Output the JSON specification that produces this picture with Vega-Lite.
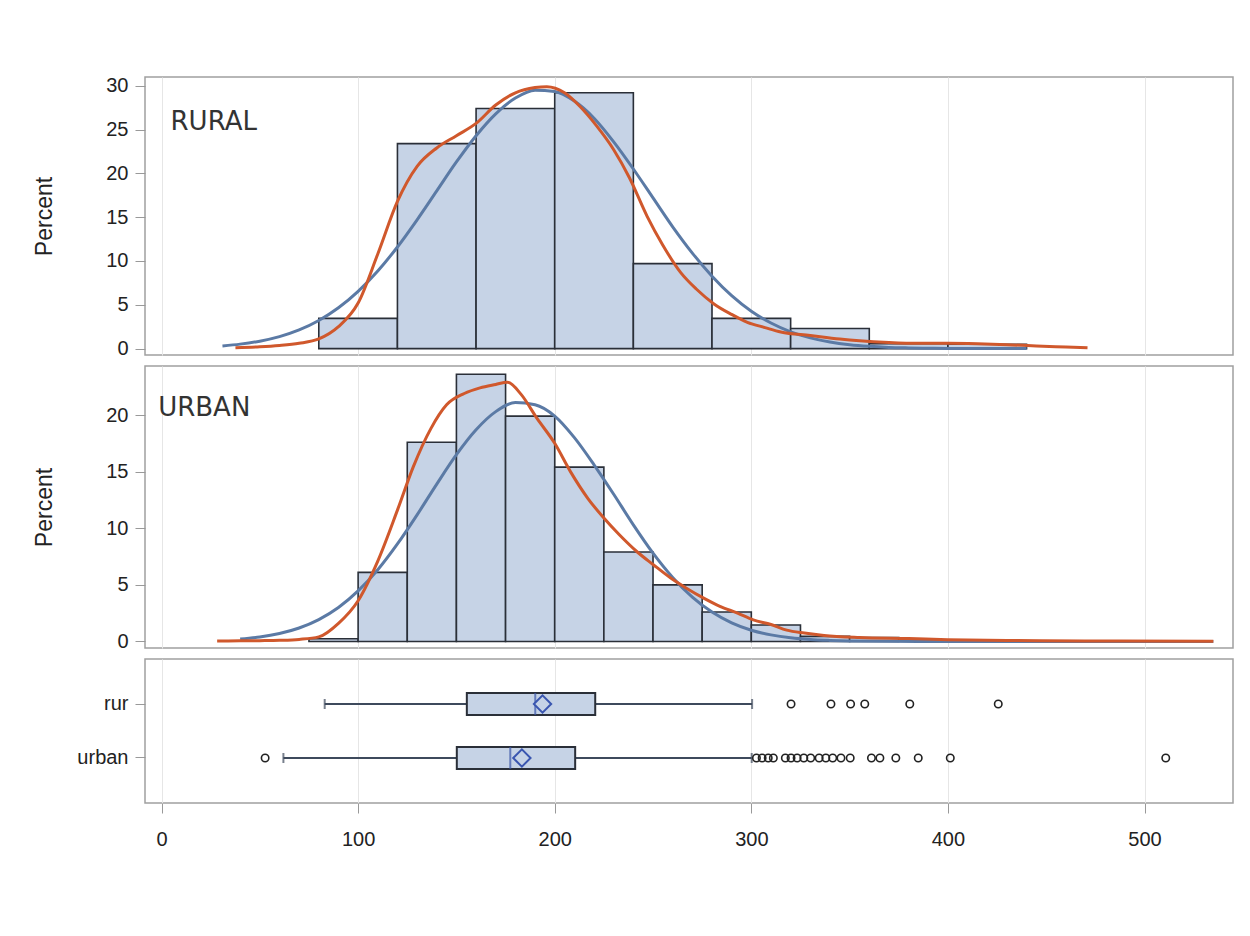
{
  "$schema": "https://vega.github.io/schema/vega-lite/v6.json",
  "background": "white",
  "padding": {"left": 33, "top": 75, "right": 10, "bottom": 10},
  "spacing": 11,
  "bounds": "flush",
  "config": {
    "view": {"stroke": "#a0a0a0", "strokeWidth": 1.5},
    "axis": {"labelFont": "Liberation Sans", "titleFont": "Liberation Sans", "labelColor": "#222", "titleColor": "#222", "tickColor": "#999", "gridColor": "#e6e6e6", "domain": false}
  },
  "datasets": {
    "hist": [
      {"grp": "RURAL", "x0": 80, "x1": 120, "pct": 3.45},
      {"grp": "RURAL", "x0": 120, "x1": 160, "pct": 23.4},
      {"grp": "RURAL", "x0": 160, "x1": 200, "pct": 27.4},
      {"grp": "RURAL", "x0": 200, "x1": 240, "pct": 29.2},
      {"grp": "RURAL", "x0": 240, "x1": 280, "pct": 9.7},
      {"grp": "RURAL", "x0": 280, "x1": 320, "pct": 3.45},
      {"grp": "RURAL", "x0": 320, "x1": 360, "pct": 2.3},
      {"grp": "RURAL", "x0": 360, "x1": 400, "pct": 0.55},
      {"grp": "RURAL", "x0": 400, "x1": 440, "pct": 0.5},
      {"grp": "URBAN", "x0": 75, "x1": 100, "pct": 0.24},
      {"grp": "URBAN", "x0": 100, "x1": 125, "pct": 6.1},
      {"grp": "URBAN", "x0": 125, "x1": 150, "pct": 17.6},
      {"grp": "URBAN", "x0": 150, "x1": 175, "pct": 23.6},
      {"grp": "URBAN", "x0": 175, "x1": 200, "pct": 19.9},
      {"grp": "URBAN", "x0": 200, "x1": 225, "pct": 15.4},
      {"grp": "URBAN", "x0": 225, "x1": 250, "pct": 7.9},
      {"grp": "URBAN", "x0": 250, "x1": 275, "pct": 5.0},
      {"grp": "URBAN", "x0": 275, "x1": 300, "pct": 2.6},
      {"grp": "URBAN", "x0": 300, "x1": 325, "pct": 1.45},
      {"grp": "URBAN", "x0": 325, "x1": 350, "pct": 0.45},
      {"grp": "URBAN", "x0": 350, "x1": 375, "pct": 0.35}
    ],
    "curves": [
      {"grp": "RURAL", "c": "normal", "x": 31, "y": 0.31},
      {"grp": "RURAL", "c": "normal", "x": 40, "y": 0.51},
      {"grp": "RURAL", "c": "normal", "x": 50, "y": 0.85},
      {"grp": "RURAL", "c": "normal", "x": 60, "y": 1.37},
      {"grp": "RURAL", "c": "normal", "x": 70, "y": 2.13},
      {"grp": "RURAL", "c": "normal", "x": 80, "y": 3.21},
      {"grp": "RURAL", "c": "normal", "x": 90, "y": 4.66},
      {"grp": "RURAL", "c": "normal", "x": 100, "y": 6.54},
      {"grp": "RURAL", "c": "normal", "x": 110, "y": 8.86},
      {"grp": "RURAL", "c": "normal", "x": 120, "y": 11.6},
      {"grp": "RURAL", "c": "normal", "x": 130, "y": 14.7},
      {"grp": "RURAL", "c": "normal", "x": 140, "y": 18.0},
      {"grp": "RURAL", "c": "normal", "x": 150, "y": 21.3},
      {"grp": "RURAL", "c": "normal", "x": 160, "y": 24.3},
      {"grp": "RURAL", "c": "normal", "x": 170, "y": 26.8},
      {"grp": "RURAL", "c": "normal", "x": 180, "y": 28.6},
      {"grp": "RURAL", "c": "normal", "x": 190, "y": 29.5},
      {"grp": "RURAL", "c": "normal", "x": 200, "y": 29.35},
      {"grp": "RURAL", "c": "normal", "x": 210, "y": 28.25},
      {"grp": "RURAL", "c": "normal", "x": 220, "y": 26.3},
      {"grp": "RURAL", "c": "normal", "x": 230, "y": 23.6},
      {"grp": "RURAL", "c": "normal", "x": 240, "y": 20.5},
      {"grp": "RURAL", "c": "normal", "x": 250, "y": 17.2},
      {"grp": "RURAL", "c": "normal", "x": 260, "y": 13.9},
      {"grp": "RURAL", "c": "normal", "x": 270, "y": 10.9},
      {"grp": "RURAL", "c": "normal", "x": 280, "y": 8.27},
      {"grp": "RURAL", "c": "normal", "x": 290, "y": 6.05},
      {"grp": "RURAL", "c": "normal", "x": 300, "y": 4.27},
      {"grp": "RURAL", "c": "normal", "x": 310, "y": 2.92},
      {"grp": "RURAL", "c": "normal", "x": 320, "y": 1.92},
      {"grp": "RURAL", "c": "normal", "x": 330, "y": 1.23},
      {"grp": "RURAL", "c": "normal", "x": 340, "y": 0.76},
      {"grp": "RURAL", "c": "normal", "x": 350, "y": 0.45},
      {"grp": "RURAL", "c": "normal", "x": 360, "y": 0.26},
      {"grp": "RURAL", "c": "normal", "x": 370, "y": 0.14},
      {"grp": "RURAL", "c": "normal", "x": 380, "y": 0.08},
      {"grp": "RURAL", "c": "normal", "x": 390, "y": 0.04},
      {"grp": "RURAL", "c": "normal", "x": 400, "y": 0.02},
      {"grp": "RURAL", "c": "normal", "x": 420, "y": 0.005},
      {"grp": "RURAL", "c": "normal", "x": 440, "y": 0.001},
      {"grp": "RURAL", "c": "kernel", "x": 37.6, "y": 0.1},
      {"grp": "RURAL", "c": "kernel", "x": 50, "y": 0.2},
      {"grp": "RURAL", "c": "kernel", "x": 60, "y": 0.35},
      {"grp": "RURAL", "c": "kernel", "x": 70, "y": 0.6},
      {"grp": "RURAL", "c": "kernel", "x": 80, "y": 1.1},
      {"grp": "RURAL", "c": "kernel", "x": 90, "y": 2.5},
      {"grp": "RURAL", "c": "kernel", "x": 100, "y": 5.2},
      {"grp": "RURAL", "c": "kernel", "x": 110, "y": 10.8},
      {"grp": "RURAL", "c": "kernel", "x": 120, "y": 16.8},
      {"grp": "RURAL", "c": "kernel", "x": 130, "y": 20.8},
      {"grp": "RURAL", "c": "kernel", "x": 140, "y": 22.9},
      {"grp": "RURAL", "c": "kernel", "x": 150, "y": 24.3},
      {"grp": "RURAL", "c": "kernel", "x": 160, "y": 25.7},
      {"grp": "RURAL", "c": "kernel", "x": 170, "y": 27.8},
      {"grp": "RURAL", "c": "kernel", "x": 180, "y": 29.2},
      {"grp": "RURAL", "c": "kernel", "x": 190, "y": 29.8},
      {"grp": "RURAL", "c": "kernel", "x": 196, "y": 29.9},
      {"grp": "RURAL", "c": "kernel", "x": 205, "y": 29.2},
      {"grp": "RURAL", "c": "kernel", "x": 213, "y": 27.6},
      {"grp": "RURAL", "c": "kernel", "x": 221, "y": 25.5},
      {"grp": "RURAL", "c": "kernel", "x": 230, "y": 22.7},
      {"grp": "RURAL", "c": "kernel", "x": 238, "y": 19.5},
      {"grp": "RURAL", "c": "kernel", "x": 247, "y": 15.1},
      {"grp": "RURAL", "c": "kernel", "x": 255, "y": 11.8},
      {"grp": "RURAL", "c": "kernel", "x": 264, "y": 8.7},
      {"grp": "RURAL", "c": "kernel", "x": 272, "y": 6.8},
      {"grp": "RURAL", "c": "kernel", "x": 281, "y": 5.1},
      {"grp": "RURAL", "c": "kernel", "x": 290, "y": 3.9},
      {"grp": "RURAL", "c": "kernel", "x": 298, "y": 3.0},
      {"grp": "RURAL", "c": "kernel", "x": 307, "y": 2.4},
      {"grp": "RURAL", "c": "kernel", "x": 315, "y": 1.9},
      {"grp": "RURAL", "c": "kernel", "x": 330, "y": 1.5},
      {"grp": "RURAL", "c": "kernel", "x": 345, "y": 1.1},
      {"grp": "RURAL", "c": "kernel", "x": 355, "y": 0.9},
      {"grp": "RURAL", "c": "kernel", "x": 370, "y": 0.7},
      {"grp": "RURAL", "c": "kernel", "x": 385, "y": 0.6},
      {"grp": "RURAL", "c": "kernel", "x": 400, "y": 0.6},
      {"grp": "RURAL", "c": "kernel", "x": 415, "y": 0.55},
      {"grp": "RURAL", "c": "kernel", "x": 430, "y": 0.45},
      {"grp": "RURAL", "c": "kernel", "x": 445, "y": 0.3},
      {"grp": "RURAL", "c": "kernel", "x": 460, "y": 0.18},
      {"grp": "RURAL", "c": "kernel", "x": 471, "y": 0.1},
      {"grp": "URBAN", "c": "normal", "x": 40, "y": 0.21},
      {"grp": "URBAN", "c": "normal", "x": 50, "y": 0.39},
      {"grp": "URBAN", "c": "normal", "x": 60, "y": 0.7},
      {"grp": "URBAN", "c": "normal", "x": 70, "y": 1.19},
      {"grp": "URBAN", "c": "normal", "x": 80, "y": 1.93},
      {"grp": "URBAN", "c": "normal", "x": 90, "y": 3.0},
      {"grp": "URBAN", "c": "normal", "x": 100, "y": 4.46},
      {"grp": "URBAN", "c": "normal", "x": 110, "y": 6.33},
      {"grp": "URBAN", "c": "normal", "x": 120, "y": 8.61},
      {"grp": "URBAN", "c": "normal", "x": 130, "y": 11.18},
      {"grp": "URBAN", "c": "normal", "x": 140, "y": 13.9},
      {"grp": "URBAN", "c": "normal", "x": 150, "y": 16.5},
      {"grp": "URBAN", "c": "normal", "x": 160, "y": 18.7},
      {"grp": "URBAN", "c": "normal", "x": 170, "y": 20.3},
      {"grp": "URBAN", "c": "normal", "x": 180, "y": 21.1},
      {"grp": "URBAN", "c": "normal", "x": 190, "y": 20.9},
      {"grp": "URBAN", "c": "normal", "x": 200, "y": 19.9},
      {"grp": "URBAN", "c": "normal", "x": 210, "y": 18.0},
      {"grp": "URBAN", "c": "normal", "x": 220, "y": 15.6},
      {"grp": "URBAN", "c": "normal", "x": 230, "y": 13.0},
      {"grp": "URBAN", "c": "normal", "x": 240, "y": 10.3},
      {"grp": "URBAN", "c": "normal", "x": 250, "y": 7.8},
      {"grp": "URBAN", "c": "normal", "x": 260, "y": 5.65},
      {"grp": "URBAN", "c": "normal", "x": 270, "y": 3.91},
      {"grp": "URBAN", "c": "normal", "x": 280, "y": 2.59},
      {"grp": "URBAN", "c": "normal", "x": 290, "y": 1.64},
      {"grp": "URBAN", "c": "normal", "x": 300, "y": 0.99},
      {"grp": "URBAN", "c": "normal", "x": 310, "y": 0.58},
      {"grp": "URBAN", "c": "normal", "x": 320, "y": 0.32},
      {"grp": "URBAN", "c": "normal", "x": 330, "y": 0.17},
      {"grp": "URBAN", "c": "normal", "x": 340, "y": 0.09},
      {"grp": "URBAN", "c": "normal", "x": 350, "y": 0.04},
      {"grp": "URBAN", "c": "normal", "x": 370, "y": 0.01},
      {"grp": "URBAN", "c": "normal", "x": 400, "y": 0.001},
      {"grp": "URBAN", "c": "normal", "x": 535, "y": 0.0},
      {"grp": "URBAN", "c": "kernel", "x": 28.3, "y": 0.03},
      {"grp": "URBAN", "c": "kernel", "x": 40, "y": 0.05},
      {"grp": "URBAN", "c": "kernel", "x": 50, "y": 0.07},
      {"grp": "URBAN", "c": "kernel", "x": 60, "y": 0.1},
      {"grp": "URBAN", "c": "kernel", "x": 70, "y": 0.18},
      {"grp": "URBAN", "c": "kernel", "x": 80, "y": 0.4},
      {"grp": "URBAN", "c": "kernel", "x": 90, "y": 1.6},
      {"grp": "URBAN", "c": "kernel", "x": 100, "y": 3.6},
      {"grp": "URBAN", "c": "kernel", "x": 110, "y": 7.1},
      {"grp": "URBAN", "c": "kernel", "x": 120, "y": 11.6},
      {"grp": "URBAN", "c": "kernel", "x": 128, "y": 15.4},
      {"grp": "URBAN", "c": "kernel", "x": 137, "y": 18.8},
      {"grp": "URBAN", "c": "kernel", "x": 145, "y": 20.9},
      {"grp": "URBAN", "c": "kernel", "x": 154, "y": 21.9},
      {"grp": "URBAN", "c": "kernel", "x": 162, "y": 22.4},
      {"grp": "URBAN", "c": "kernel", "x": 170, "y": 22.7},
      {"grp": "URBAN", "c": "kernel", "x": 176, "y": 22.9},
      {"grp": "URBAN", "c": "kernel", "x": 183, "y": 21.8},
      {"grp": "URBAN", "c": "kernel", "x": 191, "y": 19.7},
      {"grp": "URBAN", "c": "kernel", "x": 200, "y": 17.5},
      {"grp": "URBAN", "c": "kernel", "x": 208, "y": 15.0},
      {"grp": "URBAN", "c": "kernel", "x": 217, "y": 12.6},
      {"grp": "URBAN", "c": "kernel", "x": 225, "y": 10.9},
      {"grp": "URBAN", "c": "kernel", "x": 233, "y": 9.4},
      {"grp": "URBAN", "c": "kernel", "x": 242, "y": 7.9},
      {"grp": "URBAN", "c": "kernel", "x": 250, "y": 6.8},
      {"grp": "URBAN", "c": "kernel", "x": 259, "y": 5.6},
      {"grp": "URBAN", "c": "kernel", "x": 267, "y": 4.7},
      {"grp": "URBAN", "c": "kernel", "x": 276, "y": 3.8},
      {"grp": "URBAN", "c": "kernel", "x": 284, "y": 3.1},
      {"grp": "URBAN", "c": "kernel", "x": 293, "y": 2.5},
      {"grp": "URBAN", "c": "kernel", "x": 301, "y": 1.9},
      {"grp": "URBAN", "c": "kernel", "x": 310, "y": 1.5},
      {"grp": "URBAN", "c": "kernel", "x": 318, "y": 1.0},
      {"grp": "URBAN", "c": "kernel", "x": 327, "y": 0.74},
      {"grp": "URBAN", "c": "kernel", "x": 337, "y": 0.53},
      {"grp": "URBAN", "c": "kernel", "x": 355, "y": 0.35},
      {"grp": "URBAN", "c": "kernel", "x": 380, "y": 0.25},
      {"grp": "URBAN", "c": "kernel", "x": 400, "y": 0.15},
      {"grp": "URBAN", "c": "kernel", "x": 430, "y": 0.08},
      {"grp": "URBAN", "c": "kernel", "x": 470, "y": 0.04},
      {"grp": "URBAN", "c": "kernel", "x": 535, "y": 0.02}
    ],
    "labels": [
      {"grp": "RURAL", "x": 4.6, "y": 24.9, "text": "RURAL"},
      {"grp": "URBAN", "x": -1.7, "y": 19.9, "text": "URBAN"}
    ],
    "box": [
      {"cat": "rur", "lo": 83, "q1": 155.3, "med": 190.1, "q3": 220.6, "hi": 300.4, "mean": 193.8},
      {"cat": "urban", "lo": 62, "q1": 150.2, "med": 177.4, "q3": 210.4, "hi": 300.2, "mean": 183.3}
    ],
    "outliers": [
      {"cat": "rur", "v": 320.2}, {"cat": "rur", "v": 340.5}, {"cat": "rur", "v": 350.5},
      {"cat": "rur", "v": 357.7}, {"cat": "rur", "v": 380.6}, {"cat": "rur", "v": 425.6},
      {"cat": "urban", "v": 52.7}, {"cat": "urban", "v": 302.6}, {"cat": "urban", "v": 305.5},
      {"cat": "urban", "v": 308.6}, {"cat": "urban", "v": 311.2}, {"cat": "urban", "v": 317.3},
      {"cat": "urban", "v": 320.2}, {"cat": "urban", "v": 323.3}, {"cat": "urban", "v": 326.7},
      {"cat": "urban", "v": 330.2}, {"cat": "urban", "v": 334.5}, {"cat": "urban", "v": 337.9},
      {"cat": "urban", "v": 341.4}, {"cat": "urban", "v": 345.6}, {"cat": "urban", "v": 350.3},
      {"cat": "urban", "v": 361.1}, {"cat": "urban", "v": 365.4}, {"cat": "urban", "v": 373.5},
      {"cat": "urban", "v": 384.9}, {"cat": "urban", "v": 401.2}, {"cat": "urban", "v": 510.8}
    ]
  },
  "vconcat": [
    {
      "width": 1088, "height": 278,
      "layer": [
        {
          "data": {"name": "hist"},
          "transform": [{"filter": "datum.grp === 'RURAL'"}],
          "mark": {"type": "rect", "fill": "#c6d3e6", "stroke": "#2a2f38", "strokeWidth": 1.6},
          "encoding": {
            "x": {"field": "x0", "type": "quantitative", "scale": {"domain": [-8.4, 545], "nice": false, "zero": false},
                  "axis": {"values": [0, 100, 200, 300, 400, 500], "grid": true, "labels": false, "ticks": false, "title": null}},
            "x2": {"field": "x1"},
            "y": {"field": "pct", "type": "quantitative", "scale": {"domain": [-0.73, 31], "nice": false, "zero": false},
                  "axis": {"title": "Percent", "values": [0, 5, 10, 15, 20, 25, 30], "grid": false, "tickSize": 10, "labelPadding": 7, "labelFontSize": 20, "titleFontSize": 23, "titleFontWeight": "normal", "titlePadding": 49}},
            "y2": {"datum": 0}
          }
        },
        {
          "data": {"name": "curves"},
          "transform": [{"filter": "datum.grp === 'RURAL' && datum.c === 'normal'"}],
          "mark": {"type": "line", "color": "#5b7aa5", "strokeWidth": 3, "interpolate": "monotone"},
          "encoding": {"x": {"field": "x", "type": "quantitative"}, "y": {"field": "y", "type": "quantitative"}}
        },
        {
          "data": {"name": "curves"},
          "transform": [{"filter": "datum.grp === 'RURAL' && datum.c === 'kernel'"}],
          "mark": {"type": "line", "color": "#d0582c", "strokeWidth": 3, "interpolate": "monotone"},
          "encoding": {"x": {"field": "x", "type": "quantitative"}, "y": {"field": "y", "type": "quantitative"}}
        },
        {
          "data": {"name": "labels"},
          "transform": [{"filter": "datum.grp === 'RURAL'"}],
          "mark": {"type": "text", "align": "left", "baseline": "alphabetic", "font": "DejaVu Sans", "fontSize": 26, "color": "#333"},
          "encoding": {"x": {"field": "x", "type": "quantitative"}, "y": {"field": "y", "type": "quantitative"}, "text": {"field": "text"}}
        }
      ]
    },
    {
      "width": 1088, "height": 282,
      "layer": [
        {
          "data": {"name": "hist"},
          "transform": [{"filter": "datum.grp === 'URBAN'"}],
          "mark": {"type": "rect", "fill": "#c6d3e6", "stroke": "#2a2f38", "strokeWidth": 1.6},
          "encoding": {
            "x": {"field": "x0", "type": "quantitative", "scale": {"domain": [-8.4, 545], "nice": false, "zero": false},
                  "axis": {"values": [0, 100, 200, 300, 400, 500], "grid": true, "labels": false, "ticks": false, "title": null}},
            "x2": {"field": "x1"},
            "y": {"field": "pct", "type": "quantitative", "scale": {"domain": [-0.58, 24.33], "nice": false, "zero": false},
                  "axis": {"title": "Percent", "values": [0, 5, 10, 15, 20], "grid": false, "tickSize": 10, "labelPadding": 7, "labelFontSize": 20, "titleFontSize": 23, "titleFontWeight": "normal", "titlePadding": 49}},
            "y2": {"datum": 0}
          }
        },
        {
          "data": {"name": "curves"},
          "transform": [{"filter": "datum.grp === 'URBAN' && datum.c === 'normal'"}],
          "mark": {"type": "line", "color": "#5b7aa5", "strokeWidth": 3, "interpolate": "monotone"},
          "encoding": {"x": {"field": "x", "type": "quantitative"}, "y": {"field": "y", "type": "quantitative"}}
        },
        {
          "data": {"name": "curves"},
          "transform": [{"filter": "datum.grp === 'URBAN' && datum.c === 'kernel'"}],
          "mark": {"type": "line", "color": "#d0582c", "strokeWidth": 3, "interpolate": "monotone"},
          "encoding": {"x": {"field": "x", "type": "quantitative"}, "y": {"field": "y", "type": "quantitative"}}
        },
        {
          "data": {"name": "labels"},
          "transform": [{"filter": "datum.grp === 'URBAN'"}],
          "mark": {"type": "text", "align": "left", "baseline": "alphabetic", "font": "DejaVu Sans", "fontSize": 26, "color": "#333"},
          "encoding": {"x": {"field": "x", "type": "quantitative"}, "y": {"field": "y", "type": "quantitative"}, "text": {"field": "text"}}
        }
      ]
    },
    {
      "width": 1088, "height": 144,
      "layer": [
        {
          "data": {"name": "box"},
          "mark": {"type": "rule", "color": "#3e4a5c", "strokeWidth": 2},
          "encoding": {
            "x": {"field": "lo", "type": "quantitative", "scale": {"domain": [-8.4, 545], "nice": false, "zero": false},
                  "axis": {"values": [0, 100, 200, 300, 400, 500], "grid": true, "tickSize": 10, "labelPadding": 16, "labelFontSize": 20, "title": null}},
            "x2": {"field": "hi"},
            "y": {"field": "cat", "type": "nominal", "scale": {"domain": ["rur", "urban"], "paddingInner": 0.593, "paddingOuter": 0.63},
                  "axis": {"title": null, "tickSize": 10, "labelPadding": 7, "labelFontSize": 20}}
          }
        },
        {
          "data": {"name": "box"},
          "mark": {"type": "tick", "color": "#3e4a5c", "size": 10, "thickness": 2},
          "encoding": {"x": {"field": "lo", "type": "quantitative"}, "y": {"field": "cat", "type": "nominal"}}
        },
        {
          "data": {"name": "box"},
          "mark": {"type": "tick", "color": "#3e4a5c", "size": 10, "thickness": 2},
          "encoding": {"x": {"field": "hi", "type": "quantitative"}, "y": {"field": "cat", "type": "nominal"}}
        },
        {
          "data": {"name": "box"},
          "mark": {"type": "rect", "fill": "#c6d3e6", "stroke": "#2a2f38", "strokeWidth": 2},
          "encoding": {"x": {"field": "q1", "type": "quantitative"}, "x2": {"field": "q3"}, "y": {"field": "cat", "type": "nominal"}}
        },
        {
          "data": {"name": "box"},
          "mark": {"type": "tick", "color": "#3a56a8", "size": 22, "thickness": 2},
          "encoding": {"x": {"field": "med", "type": "quantitative"}, "y": {"field": "cat", "type": "nominal"}}
        },
        {
          "data": {"name": "box"},
          "mark": {"type": "point", "shape": "diamond", "size": 300, "filled": true, "fill": "#c6d3e6", "fillOpacity": 1, "stroke": "#3a56b0", "strokeWidth": 2, "opacity": 1},
          "encoding": {"x": {"field": "mean", "type": "quantitative"}, "y": {"field": "cat", "type": "nominal"}}
        },
        {
          "data": {"name": "outliers"},
          "mark": {"type": "point", "shape": "circle", "size": 55, "filled": false, "stroke": "#222", "strokeWidth": 1.6, "opacity": 1},
          "encoding": {"x": {"field": "v", "type": "quantitative"}, "y": {"field": "cat", "type": "nominal"}}
        }
      ]
    }
  ]
}
